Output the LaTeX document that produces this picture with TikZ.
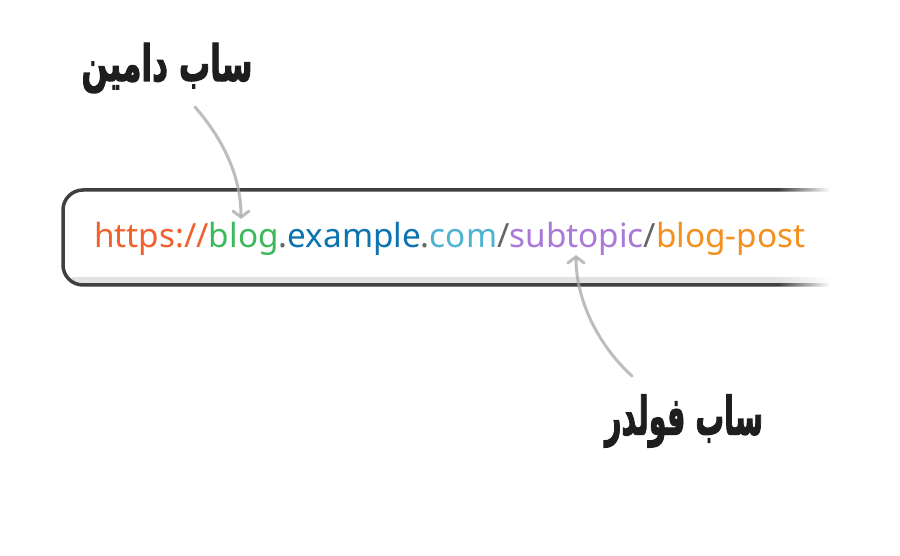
\documentclass[tikz,border=0pt]{standalone}
\usepackage{fontspec}
\setmainfont{Noto Sans}
\newfontfamily\arabicfont[Script=Arabic,BoldFeatures={FakeBold=2.5}]{DejaVu Sans}
\TeXXeTstate=1
\usetikzlibrary{arrows.meta,fadings}
\definecolor{cproto}{HTML}{F0622D}
\definecolor{csub}{HTML}{3CB95A}
\definecolor{cdom}{HTML}{0A73B0}
\definecolor{ctld}{HTML}{4EB3D3}
\definecolor{csep}{HTML}{666666}
\definecolor{cfold}{HTML}{A978D8}
\definecolor{cpost}{HTML}{F5901E}
\definecolor{border}{HTML}{404040}
\definecolor{strip}{HTML}{E2E2E2}
\definecolor{arrowgray}{HTML}{A8A8A8}
\definecolor{labelc}{HTML}{1E1E1E}
\tikzfading[name=fadetoright, left color=transparent!100, right color=transparent!0]
\tikzset{
  conn/.style={draw=arrowgray, line width=3pt, draw opacity=0.75, line cap=round,
    -{Straight Barb[length=6pt,width=16pt,line cap=round]}},
  lbl/.style={inner sep=0pt, text=labelc},
  urlbar/.style={line width=3.5pt, draw=border, rounded corners=20pt}
}
\begin{document}
\begin{tikzpicture}[x=1pt,y=-1pt]
\useasboundingbox (0,0) rectangle (900,556);
\fill[white] (0,0) rectangle (900,556);
% inner bottom strip
\fill[strip] (72,277) rectangle (835,284);
% bar border
\draw[urlbar] (835,190) -- (63,190) -- (63,285) -- (835,285);
% fade at right end
\fill[white, path fading=fadetoright] (778,180) rectangle (830,295);
\fill[white] (829,180) rectangle (850,295);
% url text
\node[anchor=base west, inner sep=0pt] (url) at (94,248) {\resizebox{711pt}{!}{%
{\color{cproto}https://}{\color{csub}blog}{\color{csep}.}{\color{cdom}example}{\color{csep}.}{\color{ctld}com}{\color{csep}/}{\color{cfold}subtopic}{\color{csep}/}{\color{cpost}blog-post}}};
% labels
\node[lbl] (sd) at (167,68) {\resizebox{171pt}{38pt}{\arabicfont\bfseries\beginR ساب دامین\endR}};
\node[lbl] (sf) at (684,421) {\resizebox{158pt}{40pt}{\arabicfont\bfseries\beginR ساب فولدر\endR}};
% connectors
\coordinate (a1s) at (195,107);
\coordinate (a1e) at (241,219);
\coordinate (a2s) at (632,376);
\coordinate (a2e) at (576,255);
\draw[conn] (a1s) .. controls (222,138) and (241,175) .. (a1e);
\draw[conn] (a2s) .. controls (598,345) and (576,300) .. (a2e);
\end{tikzpicture}
\end{document}
